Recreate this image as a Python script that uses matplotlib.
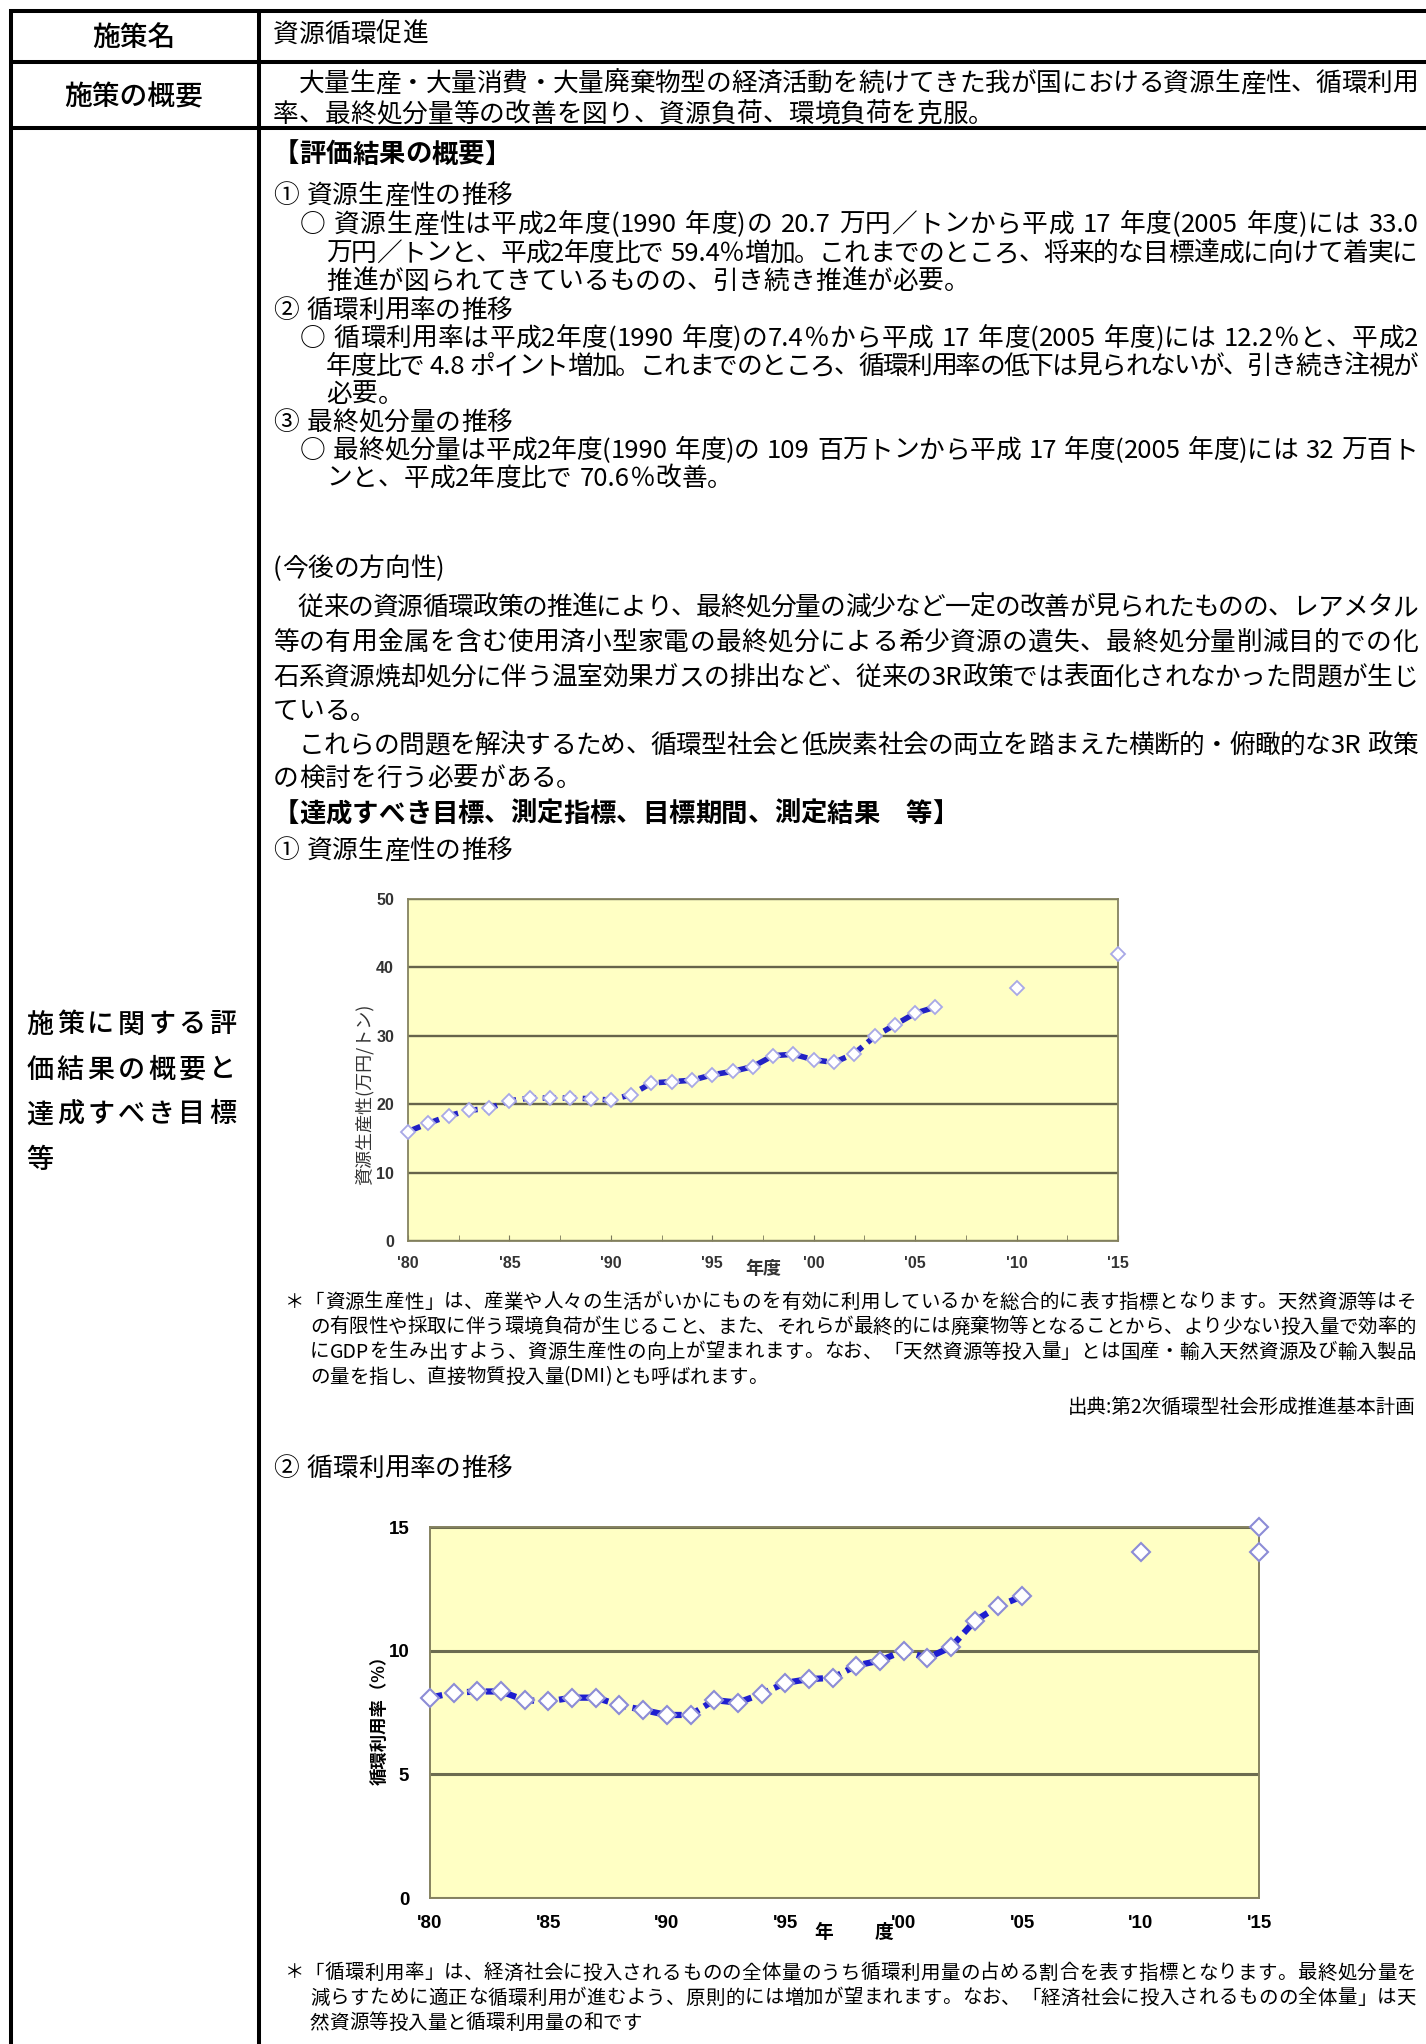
import re
import numpy as np
import matplotlib
matplotlib.use("Agg")
import matplotlib.pyplot as plt

# ---------------- data ----------------
years_prod = list(range(1980, 2007))
productivity = [16.0, 17.2, 18.3, 19.1, 19.4, 20.5, 20.9, 20.9, 20.9, 20.8, 20.6,
                21.4, 23.1, 23.3, 23.5, 24.3, 24.8, 25.5, 27.1, 27.3, 26.5, 26.1,
                27.4, 29.9, 31.6, 33.3, 34.2]
target_years_prod = [2010, 2015]
target_prod = [37.0, 42.0]

years_rate = list(range(1980, 2006))
cyclical_rate = [8.1, 8.3, 8.35, 8.35, 8.0, 7.95, 8.1, 8.1, 7.8, 7.6, 7.4, 7.4,
                 8.0, 7.9, 8.25, 8.7, 8.85, 8.9, 9.4, 9.6, 10.0, 9.7, 10.15,
                 11.2, 11.8, 12.2]
target_years_rate = [2010, 2015, 2015]
target_rate = [14.0, 15.0, 14.0]

x_ticks = [1980, 1985, 1990, 1995, 2000, 2005, 2010, 2015]
x_tick_labels = ["'80", "'85", "'90", "'95", "'00", "'05", "'10", "'15"]
y_ticks_prod = [0, 10, 20, 30, 40, 50]
y_ticks_rate = [0, 5, 10, 15]

# ---------------- figure ----------------
W, H = 1426, 2044
JP = ["Noto Sans CJK JP", "DejaVu Sans"]
fig = plt.figure(figsize=(W / 100, H / 100), dpi=100)
fig.patch.set_facecolor("white")
bg = fig.add_axes([0, 0, 1, 1])
bg.set_xlim(0, W)
bg.set_ylim(H, 0)
bg.axis("off")

# table frame
LW = 2.9
def hline(y, x0=9, x1=W):
    bg.plot([x0, x1], [y, y], color="black", lw=LW, solid_capstyle="butt", clip_on=False)
def vline(x, y0=9, y1=H):
    bg.plot([x, x], [y0, y1], color="black", lw=LW, solid_capstyle="butt", clip_on=False)
hline(11); hline(62); hline(128)
vline(11); vline(259)

renderer = fig.canvas.get_renderer()
TOK = re.compile(r"[A-Za-z0-9.%]+|.")

def line(x0, y, s, x1=None, size=18.5, weight="normal", color="black"):
    toks = TOK.findall(s)
    arts = [bg.text(0, y, t, fontsize=size, fontweight=weight, family=JP,
                    ha="left", va="center", color=color) for t in toks]
    widths = []
    for a, t in zip(arts, toks):
        if t == " ":
            widths.append(size * 100 / 72 * 0.3)
        else:
            widths.append(a.get_window_extent(renderer).width)
    gap = 0.0
    if x1 is not None and len(toks) > 1:
        gap = (x1 - x0 - sum(widths)) / (len(toks) - 1)
    x = x0
    for a, w in zip(arts, widths):
        a.set_x(x)
        x += w + gap

# left column labels
bg.text(134, 37, "施策名", fontsize=20, family=JP, ha="center", va="center", fontweight="medium")
bg.text(134, 97, "施策の概要", fontsize=20, family=JP, ha="center", va="center", fontweight="medium")
left_label = ["施策に関する評", "価結果の概要と", "達成すべき目標", "等"]
for row, (txt, yy) in enumerate(zip(left_label, [1025, 1070, 1115, 1160])):
    for i, ch in enumerate(txt):
        bg.text(40 + i * 30.4, yy, ch, fontsize=19.5, family=JP, ha="center", va="center",
                fontweight="medium")

R = 1418
BX, OX, CX = 273, 300, 326
line(BX, 35, "資源循環促進")
line(BX, 84, "　大量生産・大量消費・大量廃棄物型の経済活動を続けてきた我が国における資源生産性、循環利用", R)
line(BX, 115, "率、最終処分量等の改善を図り、資源負荷、環境負荷を克服。")

line(BX, 155, "【評価結果の概要】", size=19, weight="bold")
line(BX, 196, "① 資源生産性の推移")
line(OX, 225, "○ 資源生産性は平成2年度(1990 年度)の 20.7 万円／トンから平成 17 年度(2005 年度)には 33.0", R)
line(CX, 254, "万円／トンと、平成2年度比で 59.4％増加。これまでのところ、将来的な目標達成に向けて着実に", R)
line(CX, 282, "推進が図られてきているものの、引き続き推進が必要。")
line(BX, 311, "② 循環利用率の推移")
line(OX, 339, "○ 循環利用率は平成2年度(1990 年度)の7.4％から平成 17 年度(2005 年度)には 12.2％と、平成2", R)
line(CX, 367, "年度比で 4.8 ポイント増加。これまでのところ、循環利用率の低下は見られないが、引き続き注視が", R)
line(CX, 395, "必要。")
line(BX, 423, "③ 最終処分量の推移")
line(OX, 451, "○ 最終処分量は平成2年度(1990 年度)の 109 百万トンから平成 17 年度(2005 年度)には 32 万百ト", R)
line(CX, 479, "ンと、平成2年度比で 70.6％改善。")

line(BX, 569, "(今後の方向性)")
line(BX, 608, "　従来の資源循環政策の推進により、最終処分量の減少など一定の改善が見られたものの、レアメタル", R)
line(BX, 643, "等の有用金属を含む使用済小型家電の最終処分による希少資源の遺失、最終処分量削減目的での化", R)
line(BX, 678, "石系資源焼却処分に伴う温室効果ガスの排出など、従来の3R政策では表面化されなかった問題が生じ", R)
line(BX, 712, "ている。")
line(BX, 746, "　これらの問題を解決するため、循環型社会と低炭素社会の両立を踏まえた横断的・俯瞰的な3R 政策", R)
line(BX, 779, "の検討を行う必要がある。")
line(BX, 814, "【達成すべき目標、測定指標、目標期間、測定結果　等】", size=19, weight="bold")
line(BX, 851, "① 資源生産性の推移")

FS = 14
FR = 1416
line(285, 1302, "＊「資源生産性」は、産業や人々の生活がいかにものを有効に利用しているかを総合的に表す指標となります。天然資源等はそ", FR, size=FS)
line(310, 1327, "の有限性や採取に伴う環境負荷が生じること、また、それらが最終的には廃棄物等となることから、より少ない投入量で効率的", FR, size=FS)
line(310, 1352, "にGDPを生み出すよう、資源生産性の向上が望まれます。なお、「天然資源等投入量」とは国産・輸入天然資源及び輸入製品", FR, size=FS)
line(310, 1377, "の量を指し、直接物質投入量(DMI)とも呼ばれます。", size=FS)
bg.text(FR, 1407, "出典:第2次循環型社会形成推進基本計画", fontsize=FS, family=JP, ha="right", va="center")

line(BX, 1469, "② 循環利用率の推移")

line(285, 1973, "＊「循環利用率」は、経済社会に投入されるものの全体量のうち循環利用量の占める割合を表す指標となります。最終処分量を", FR, size=FS)
line(310, 1998, "減らすために適正な循環利用が進むよう、原則的には増加が望まれます。なお、「経済社会に投入されるものの全体量」は天", FR, size=FS)
line(310, 2023, "然資源等投入量と循環利用量の和です", size=FS)

# ---------------- chart 1 ----------------
ax1 = fig.add_axes([408 / W, 1 - 1241 / H, (1118 - 408) / W, (1241 - 899) / H])
ax1.set_facecolor("#FFFFC4")
ax1.set_xlim(1980, 2015)
ax1.set_ylim(0, 50)
ax1.set_yticks(y_ticks_prod)
ax1.set_xticks(x_ticks)
ax1.set_xticklabels(x_tick_labels)
ax1.set_xticks(np.arange(1980, 2015.1, 2.5), minor=True)
ax1.grid(axis="y", color="#66644a", lw=1.7)
ax1.set_axisbelow(True)
for sp in ax1.spines.values():
    sp.set_color("#858260")
    sp.set_linewidth(1.3)
ax1.tick_params(axis="y", length=0, pad=10, labelsize=11.5, labelcolor="#333333")
ax1.tick_params(axis="x", which="both", direction="in", length=4, color="#7a785a",
                pad=11, labelsize=11.5, labelcolor="#333333")
for lbl in ax1.get_xticklabels() + ax1.get_yticklabels():
    lbl.set_fontweight("bold")
    lbl.set_family("Liberation Sans")
ax1.plot(years_prod, productivity, linestyle=(0, (2.4, 1.2)), color="#2222c4", lw=4,
         zorder=3, clip_on=False)
ax1.plot(years_prod, productivity, ls="none", marker="D", ms=7.5, mfc="white",
         mec="#a8a8e6", mew=1.3, zorder=4, clip_on=False)
ax1.plot(target_years_prod, target_prod, ls="none", marker="D", ms=7.5, mfc="white",
         mec="#a8a8e6", mew=1.3, zorder=4, clip_on=False)
bg.text(364, 1094, "資源生産性(万円/トン)", rotation=90, ha="center", va="center",
        fontsize=13, family=JP, color="#333333")
bg.text(763, 1268, "年度", ha="center", va="center", fontsize=13, family=JP,
        fontweight="bold", color="#333333")

# ---------------- chart 2 ----------------
ax2 = fig.add_axes([430 / W, 1 - 1898 / H, (1259 - 430) / W, (1898 - 1527) / H])
ax2.set_facecolor("#FFFFC4")
ax2.set_xlim(1980, 2015)
ax2.set_ylim(0, 15)
ax2.set_yticks(y_ticks_rate)
ax2.set_xticks(x_ticks)
ax2.set_xticklabels(x_tick_labels)
ax2.grid(axis="y", color="#6c6c50", lw=2.2)
ax2.set_axisbelow(True)
for sp in ax2.spines.values():
    sp.set_color("#858260")
    sp.set_linewidth(1.4)
ax2.tick_params(axis="y", length=0, pad=15, labelsize=13.5, labelcolor="black")
ax2.tick_params(axis="x", length=0, pad=12, labelsize=13.5, labelcolor="black")
for lbl in ax2.get_xticklabels() + ax2.get_yticklabels():
    lbl.set_fontweight("bold")
    lbl.set_family("Liberation Sans")
ax2.plot(years_rate, cyclical_rate, linestyle=(0, (2.0, 1.0)), color="#1e1ed0", lw=4.5,
         zorder=3, clip_on=False)
ax2.plot(years_rate, cyclical_rate, ls="none", marker="D", ms=9.5, mfc="white",
         mec="#8c8cd6", mew=1.5, zorder=4, clip_on=False)
ax2.plot(target_years_rate, target_rate, ls="none", marker="D", ms=9.5, mfc="white",
         mec="#8c8cd6", mew=1.5, zorder=4, clip_on=False)
bg.text(380, 1716, "循環利用率（%）", rotation=90, ha="center", va="center",
        fontsize=12.5, family=JP, fontweight="bold")
bg.text(824, 1932, "年", ha="center", va="center", fontsize=13.5, family=JP, fontweight="bold")
bg.text(884, 1932, "度", ha="center", va="center", fontsize=13.5, family=JP, fontweight="bold")

fig.savefig("out.png", dpi=100, facecolor="white")
